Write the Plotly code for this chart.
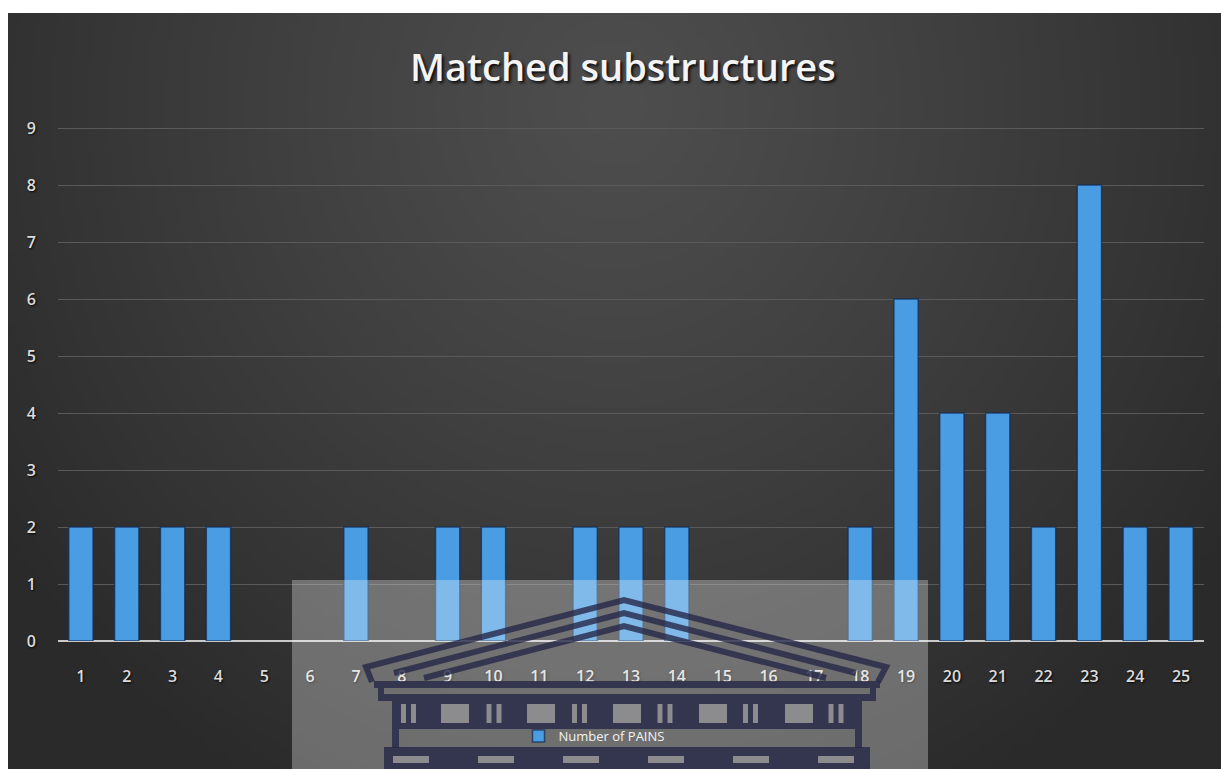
import base64
import struct
import zlib

import numpy as np
import plotly.graph_objects as go

# ---- data -------------------------------------------------------------
categories = ["1", "2", "3", "4", "5", "6", "7", "8", "9", "10", "11", "12", "13",
              "14", "15", "16", "17", "18", "19", "20", "21", "22", "23", "24", "25"]
pains = [2, 2, 2, 2, 0, 0, 2, 0, 2, 2, 0, 2, 2, 2, 0, 0, 0, 2, 6, 4, 4, 2, 8, 2, 2]
y_ticks = [0, 1, 2, 3, 4, 5, 6, 7, 8, 9]

# ---- page geometry (pixels) --------------------------------------------
W, H = 1221, 769
HEADROOM = 4  # px above the top gridline so it is not dropped at the edge
ML, MR, MT, MB = 58, 17, 128 - HEADROOM, 128
PW, PH = W - ML - MR, H - MT - MB
Y_TOP = 9 + HEADROOM / 57


def X(px):
    return (px - ML) / PW


def Y(py):
    return (H - MB - py) / PH


# ---- radial dark background rendered into a small PNG -------------------
def png_uri(rgb):
    h, w, _ = rgb.shape
    raw = b"".join(b"\x00" + rgb[r].tobytes() for r in range(h))

    def chunk(tag, data):
        return (struct.pack(">I", len(data)) + tag + data +
                struct.pack(">I", zlib.crc32(tag + data) & 0xFFFFFFFF))

    png = (b"\x89PNG\r\n\x1a\n" +
           chunk(b"IHDR", struct.pack(">IIBBBBB", w, h, 8, 2, 0, 0, 0)) +
           chunk(b"IDAT", zlib.compress(raw, 9)) +
           chunk(b"IEND", b""))
    return "data:image/png;base64," + base64.b64encode(png).decode()


gw, gh = 320, 200
gx, gy = np.meshgrid(np.linspace(0, 1, gw), np.linspace(0, 1, gh))
dist = np.sqrt(((gx - 0.5) / 0.62) ** 2 + ((gy - 0.12) / 1.05) ** 2)
dist = np.clip(dist, 0, 1)
shade = 78 - 36 * dist ** 1.15
bg = np.clip(np.stack([shade, shade, shade], axis=-1), 0, 255).astype(np.uint8)
bg_uri = png_uri(bg)

# ---- figure -------------------------------------------------------------
edge_widths = [1.5 if v > 0 else 0 for v in pains]

fig = go.Figure()
fig.add_trace(go.Bar(
    x=categories,
    y=pains,
    name="Number of PAINS",
    marker=dict(color="#4a9de3",
                line=dict(color="rgba(20,45,85,0.75)", width=edge_widths)),
))

tick_font = dict(family="Open Sans", size=16, color="#dcdcdc", weight=600,
                 shadow="1px 1px 2px rgba(0,0,0,0.9)")

fig.update_layout(
    width=W, height=H,
    margin=dict(l=ML, r=MR, t=MT, b=MB),
    paper_bgcolor="white",
    plot_bgcolor="rgba(0,0,0,0)",
    bargap=0.47,
    showlegend=True,
    legend=dict(
        orientation="h",
        x=X(594), y=Y(736), xanchor="center", yanchor="middle",
        bgcolor="rgba(0,0,0,0)",
        font=dict(family="Open Sans", size=13, color="#f2f2f2"),
    ),
    xaxis=dict(
        type="category", range=[-0.5, 24.5],
        showgrid=False, showline=False, ticks="",
        tickfont=tick_font, ticklabelstandoff=24,
    ),
    yaxis=dict(
        range=[0, Y_TOP], tickvals=y_ticks,
        showgrid=True, gridcolor="#5a5a5a", gridwidth=1,
        zeroline=True, zerolinecolor="#c9c9c9", zerolinewidth=2,
        showline=False, ticks="",
        tickfont=tick_font, ticklabelstandoff=21,
    ),
    images=[dict(
        source=bg_uri, xref="paper", yref="paper",
        x=X(8), y=Y(13), sizex=X(W) - X(8), sizey=Y(13) - Y(H),
        xanchor="left", yanchor="top", sizing="stretch", layer="below",
    )],
    annotations=[dict(
        text="Matched substructures", xref="paper", yref="paper",
        x=X(623), y=Y(66), xanchor="center", yanchor="middle", showarrow=False,
        font=dict(family="Open Sans", size=38, weight=600, color="#f4f4f4",
                  shadow="2px 2px 3px rgba(0,0,0,0.85)"),
    )],
)

# ---- watermark overlay: translucent panel with a columned building ------
ink = "rgba(38,40,72,0.8)"
shapes = [dict(type="rect", xref="paper", yref="paper", layer="above",
               x0=X(292), x1=X(928), y0=Y(580), y1=Y(H),
               fillcolor="rgba(255,255,255,0.3)", line=dict(width=0))]


def line_path(pts):
    return "M " + " L ".join(f"{X(a):.5f},{Y(b):.5f}" for a, b in pts)


def box(x0, y0, x1, y1, fill):
    return dict(type="rect", xref="paper", yref="paper", layer="above",
                x0=X(x0), x1=X(x1), y0=Y(y0), y1=Y(y1),
                fillcolor=fill, line=dict(width=0))


# pediment outlines
for pts in ([(372, 682), (366, 667), (624, 600), (886, 667), (878, 682)],
            [(394, 673), (624, 613), (856, 673)],
            [(424, 678), (624, 626), (826, 678)]):
    shapes.append(dict(type="path", xref="paper", yref="paper", layer="above",
                       path=line_path(pts), line=dict(color=ink, width=6)))

# entablature bands
shapes.append(box(374, 681, 880, 688, ink))
shapes.append(box(378, 694, 876, 701, ink))
shapes.append(box(378, 688, 384, 694, ink))
shapes.append(box(870, 688, 876, 694, ink))
# colonnade block with openings
shapes.append(box(392, 701, 862, 729, ink))
light = "rgba(150,150,150,0.9)"
for k in range(6):
    cx = 408 + 85.5 * k
    shapes.append(box(cx - 7, 704, cx - 2, 723, light))
    shapes.append(box(cx + 3, 704, cx + 8, 723, light))
for k in range(5):
    cx = 455 + 86 * k
    shapes.append(box(cx - 14, 704, cx + 14, 723, light))
# frieze band holding the legend
shapes.append(box(392, 729, 399, 748, ink))
shapes.append(box(855, 729, 862, 748, ink))
# base with slots
shapes.append(box(384, 747, 870, H, ink))
for k in range(6):
    cx = 411 + 85 * k
    shapes.append(box(cx - 18, 756, cx + 18, 763, light))

fig.update_layout(shapes=shapes)

fig.write_html("out.html")
